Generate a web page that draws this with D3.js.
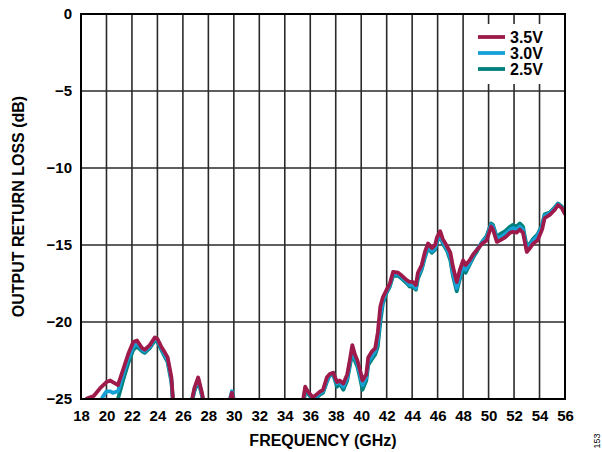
<!DOCTYPE html>
<html>
<head>
<meta charset="utf-8">
<script src="https://cdn.jsdelivr.net/npm/d3@7"></script>
<style>
  body { margin: 0; background: #fff; }
  svg text { font-family: "Liberation Sans", Arial, sans-serif; }
</style>
</head>
<body>
<svg id="chart" width="602" height="452"></svg>
<script>
// frequency points (GHz), shared by all three supply voltages
var freq = [18, 18.5, 19.0, 19.5, 19.75, 20.0, 20.3, 20.5, 20.9, 21.3, 21.7, 22.1, 22.4, 22.8, 23.0, 23.4, 23.8, 24.0, 24.3, 24.6, 24.8, 25.1, 25.3,
  26.0, 26.6, 26.9, 27.2, 27.5, 27.8, 29.0, 29.6, 29.85, 30.05, 31, 33, 35.2, 35.45, 35.6, 35.8, 36.2, 36.5, 36.8, 37.0, 37.3, 37.5, 37.8,
  38.1, 38.3, 38.6, 38.9, 39.1, 39.3, 39.5, 39.7, 39.9, 40.1, 40.4, 40.55, 40.85, 41.1, 41.3, 41.5, 41.7, 42.0, 42.25, 42.5, 42.9, 43.2,
  43.6, 43.8, 44.05, 44.3, 44.45, 44.75, 45.0, 45.25, 45.55, 45.8, 45.95, 46.2, 46.4, 46.75, 47.0, 47.2, 47.5, 47.75, 48.0, 48.2, 48.5,
  48.8, 49.1, 49.5, 49.85, 50.2, 50.35, 50.65, 50.9, 51.3, 51.7, 51.9, 52.2, 52.45, 52.7, 53.0, 53.25, 53.5, 53.85, 54.2, 54.4, 54.8,
  55.2, 55.45, 55.75, 56.0];

var v35 = [-25.3, -24.95, -24.8, -24.3, -24.1, -23.9, -23.8, -23.9, -24.1, -23.1, -22.1, -21.3, -21.2, -21.7, -21.8, -21.5, -21.0, -21.1, -21.6, -22.0, -22.3, -23.6, -26,
  -27, -25.5, -24.3, -23.6, -24.6, -26, -27, -25.4, -24.6, -25.3, -27, -27, -26, -25.0, -24.2, -24.5, -24.9, -24.7, -24.5, -24.4, -23.6, -23.4, -23.3,
  -23.9, -23.8, -24.0, -23.4, -22.5, -21.5, -22.1, -22.5, -23.1, -23.8, -23.4, -22.3, -21.9, -21.7, -20.7, -19.0, -18.4, -17.9, -17.5, -16.75, -16.8, -17.0,
  -17.3, -17.4, -17.4, -17.6, -16.8, -16.3, -15.45, -14.9, -15.2, -15.0, -14.5, -14.1, -14.6, -15.1, -15.5, -16.4, -17.4, -16.6, -16.0, -16.3, -16.0,
  -15.6, -15.3, -14.9, -14.7, -13.8, -14.0, -14.8, -14.7, -14.5, -14.2, -14.15, -14.2, -14.0, -14.2, -15.45, -15.2, -14.9, -14.7, -14.0, -13.25, -13.05,
  -12.7, -12.4, -12.6, -13.0];

var v30 = [-27, -27, -26, -25.2, -24.8, -24.5, -24.5, -24.6, -24.5, -23.4, -22.4, -21.6, -21.4, -21.8, -21.9, -21.6, -21.1, -21.2, -21.7, -22.2, -22.5, -23.8, -26,
  -27, -25.6, -24.4, -23.7, -24.7, -26, -27, -25.3, -24.5, -25.2, -27, -27, -26, -25.2, -24.4, -24.5, -25.0, -24.8, -24.6, -24.5, -23.8, -23.5, -23.3,
  -24.0, -23.9, -24.2, -23.6, -22.7, -21.8, -22.3, -22.7, -23.4, -24.1, -23.6, -22.6, -22.2, -21.9, -21.2, -19.6, -18.6, -18.0, -17.6, -16.9, -16.9, -17.1,
  -17.4, -17.6, -17.6, -17.8, -17.0, -16.5, -15.7, -15.1, -15.4, -15.2, -14.7, -14.3, -14.8, -15.3, -15.8, -16.8, -17.8, -17.0, -16.3, -16.6, -16.2,
  -15.7, -15.3, -14.8, -14.5, -13.7, -13.8, -14.6, -14.5, -14.3, -14.0, -13.9, -14.0, -13.8, -14.0, -15.3, -15.0, -14.7, -14.4, -13.8, -13.1, -12.95,
  -12.6, -12.35, -12.55, -12.95];

var v25 = [-27, -27, -27, -26.5, -26.2, -26, -25.8, -25.6, -25.0, -23.8, -22.7, -21.8, -21.6, -21.9, -22.0, -21.7, -21.2, -21.3, -21.8, -22.3, -22.6, -23.9, -26,
  -27, -25.6, -24.5, -23.8, -24.8, -26, -27, -25.5, -24.7, -25.4, -27, -27, -26, -25.4, -24.6, -24.6, -25.1, -24.9, -24.7, -24.6, -23.9, -23.5, -23.4,
  -24.2, -24.0, -24.4, -23.8, -22.9, -22.0, -22.5, -22.9, -23.6, -24.4, -23.8, -22.8, -22.4, -22.1, -21.6, -20.0, -18.8, -18.1, -17.7, -17.0, -17.0, -17.2,
  -17.5, -17.7, -17.7, -17.9, -17.2, -16.6, -15.8, -15.2, -15.5, -15.3, -14.8, -14.4, -14.9, -15.4, -16.0, -17.0, -18.0, -17.2, -16.5, -16.8, -16.3,
  -15.8, -15.4, -14.8, -14.4, -13.6, -13.7, -14.5, -14.3, -14.1, -13.8, -13.7, -13.8, -13.6, -13.8, -15.1, -14.9, -14.6, -14.3, -13.7, -13.0, -12.9,
  -12.55, -12.3, -12.5, -12.9];

var seriesNames = ["3.5V", "3.0V", "2.5V"];
var seriesColors = ["#9e1a4b", "#16a0d6", "#00807c"];
var seriesValues = [v35, v30, v25];

var xTicks = d3.range(18, 57, 2);
var yTicks = [0, -5, -10, -15, -20, -25];

var margin = { left: 81, right: 37, top: 14, bottom: 53 };
var width = 602, height = 452;

var svg = d3.select("#chart");

var x = d3.scaleLinear().domain([18, 56]).range([margin.left, width - margin.right]);
var y = d3.scaleLinear().domain([-25, 0]).range([height - margin.bottom, margin.top]);

svg.append("defs").append("clipPath").attr("id", "plotclip")
  .append("rect")
  .attr("x", x(18)).attr("y", y(0))
  .attr("width", x(56) - x(18)).attr("height", y(-25) - y(0));

// grid
var grid = svg.append("g");
grid.selectAll(".vg").data(xTicks).enter().append("line")
  .attr("x1", d => x(d)).attr("x2", d => x(d))
  .attr("y1", y(0)).attr("y2", y(-25))
  .attr("stroke", "#2a2a2a").attr("stroke-width", 1.6);
grid.selectAll(".hg").data(yTicks).enter().append("line")
  .attr("x1", x(18)).attr("x2", x(56))
  .attr("y1", d => y(d)).attr("y2", d => y(d))
  .attr("stroke", "#2a2a2a").attr("stroke-width", 1.6);

// legend background hides grid
svg.append("rect")
  .attr("x", 466).attr("y", 24).attr("width", x(56) - 466 - 1).attr("height", 60)
  .attr("fill", "#fff");

// curves
var plot = svg.append("g").attr("clip-path", "url(#plotclip)");
var line = d3.line().x((d, i) => x(freq[i])).y(d => y(d));
for (var s = seriesValues.length - 1; s >= 0; s--) {
  plot.append("path")
    .datum(seriesValues[s])
    .attr("d", line)
    .attr("fill", "none")
    .attr("stroke", seriesColors[s])
    .attr("stroke-width", 3.8)
    .attr("stroke-linejoin", "round")
    .attr("stroke-linecap", "round");
}

// frame
svg.append("rect")
  .attr("x", x(18)).attr("y", y(0))
  .attr("width", x(56) - x(18)).attr("height", y(-25) - y(0))
  .attr("fill", "none").attr("stroke", "#000").attr("stroke-width", 2);

// axes
var xAxis = svg.append("g")
  .attr("transform", "translate(0," + y(-25) + ")")
  .call(d3.axisBottom(x).tickValues(xTicks).tickSize(0).tickPadding(11));
var yAxis = svg.append("g")
  .attr("transform", "translate(" + x(18) + ",0)")
  .call(d3.axisLeft(y).tickValues(yTicks).tickSize(0).tickPadding(9)
    .tickFormat(d => d === 0 ? "0" : "\u2212" + Math.abs(d)));
[xAxis, yAxis].forEach(function (a) {
  a.select(".domain").remove();
  a.selectAll("text")
    .attr("font-family", "Liberation Sans, Arial, sans-serif")
    .attr("font-size", 15).attr("font-weight", "bold").attr("fill", "#000");
});

// titles
svg.append("text")
  .attr("x", (x(18) + x(56)) / 2).attr("y", 446)
  .attr("text-anchor", "middle")
  .attr("font-size", 16).attr("font-weight", "bold")
  .text("FREQUENCY (GHz)");
svg.append("text")
  .attr("transform", "translate(24," + (y(0) + y(-25)) / 2 + ") rotate(-90)")
  .attr("text-anchor", "middle")
  .attr("font-size", 16).attr("font-weight", "bold")
  .text("OUTPUT RETURN LOSS (dB)");
svg.append("text")
  .attr("transform", "translate(600,441) rotate(-90)")
  .attr("text-anchor", "middle")
  .attr("font-size", 9)
  .text("153");

// legend
var legend = svg.append("g");
seriesNames.forEach(function (name, i) {
  var ly = 37 + i * 16;
  legend.append("line")
    .attr("x1", 478).attr("x2", 505).attr("y1", ly).attr("y2", ly)
    .attr("stroke", seriesColors[i]).attr("stroke-width", 3.8);
  legend.append("text")
    .attr("x", 510).attr("y", ly + 6)
    .attr("font-size", 16).attr("font-weight", "bold")
    .text(name);
});
</script>
</body>
</html>
